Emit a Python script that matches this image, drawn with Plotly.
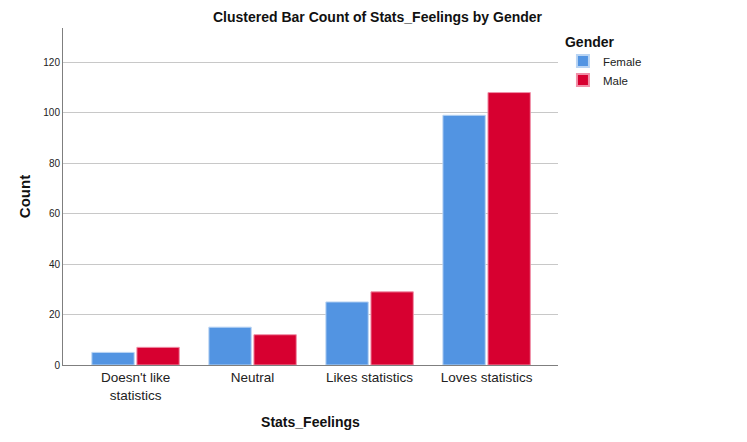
import plotly.graph_objects as go

categories = ["Doesn't like<br>statistics", "Neutral", "Likes statistics", "Loves statistics"]
female = [5, 15, 25, 99]
male = [7, 12, 29, 108]
y_ticks = [0, 20, 40, 60, 80, 100, 120]

FONT = "Liberation Sans, Arial, sans-serif"

fig = go.Figure()
fig.add_trace(go.Bar(name="Female", x=categories, y=female,
                     marker=dict(color="#5294E2", line=dict(color="#B9D4F3", width=1))))
fig.add_trace(go.Bar(name="Male", x=categories, y=male,
                     marker=dict(color="#D70030", line=dict(color="#F090A8", width=1))))

# page body has an 8px default margin; size figure to fit the 747x442 window
fig.update_layout(
    width=739, height=434,
    margin=dict(l=55, r=189, t=20, b=77),
    paper_bgcolor="white", plot_bgcolor="white",
    barmode="group", bargap=0.23, bargroupgap=0.06,
    font=dict(family=FONT, color="#222222"),
    title=dict(text="<b>Clustered Bar Count of Stats_Feelings by Gender</b>",
               x=0.5, xanchor="center", y=0.979, yanchor="middle",
               font=dict(size=14, family=FONT, color="#111111")),
    showlegend=True,
    legend=dict(title=dict(text="<b>Gender</b>", font=dict(size=14, color="#111111")),
                x=1.01, xanchor="left", y=0.999, yanchor="top",
                font=dict(size=11.5, color="#222222"),
                bgcolor="rgba(0,0,0,0)", tracegroupgap=0, itemsizing="constant",
                itemwidth=30),
)

fig.update_xaxes(
    range=[-0.62, 3.61],
    showline=True, linecolor="#7f7f7f", linewidth=1,
    showgrid=False, ticks="",
    tickfont=dict(size=13.5, family=FONT, color="#222222"),
    title=dict(text="<b>Stats_Feelings</b>", font=dict(size=14, family=FONT, color="#111111"), standoff=15),
)
fig.update_yaxes(
    range=[0, 133.6],
    tickvals=y_ticks,
    showline=True, linecolor="#7f7f7f", linewidth=1,
    showgrid=True, gridcolor="#c8c8c8", gridwidth=1,
    zeroline=False, ticks="",
    tickfont=dict(size=10, family=FONT, color="#222222"),
    title=dict(text="<b>Count</b>", font=dict(size=15, family=FONT, color="#111111"), standoff=9),
)

fig.write_html("out.html")
